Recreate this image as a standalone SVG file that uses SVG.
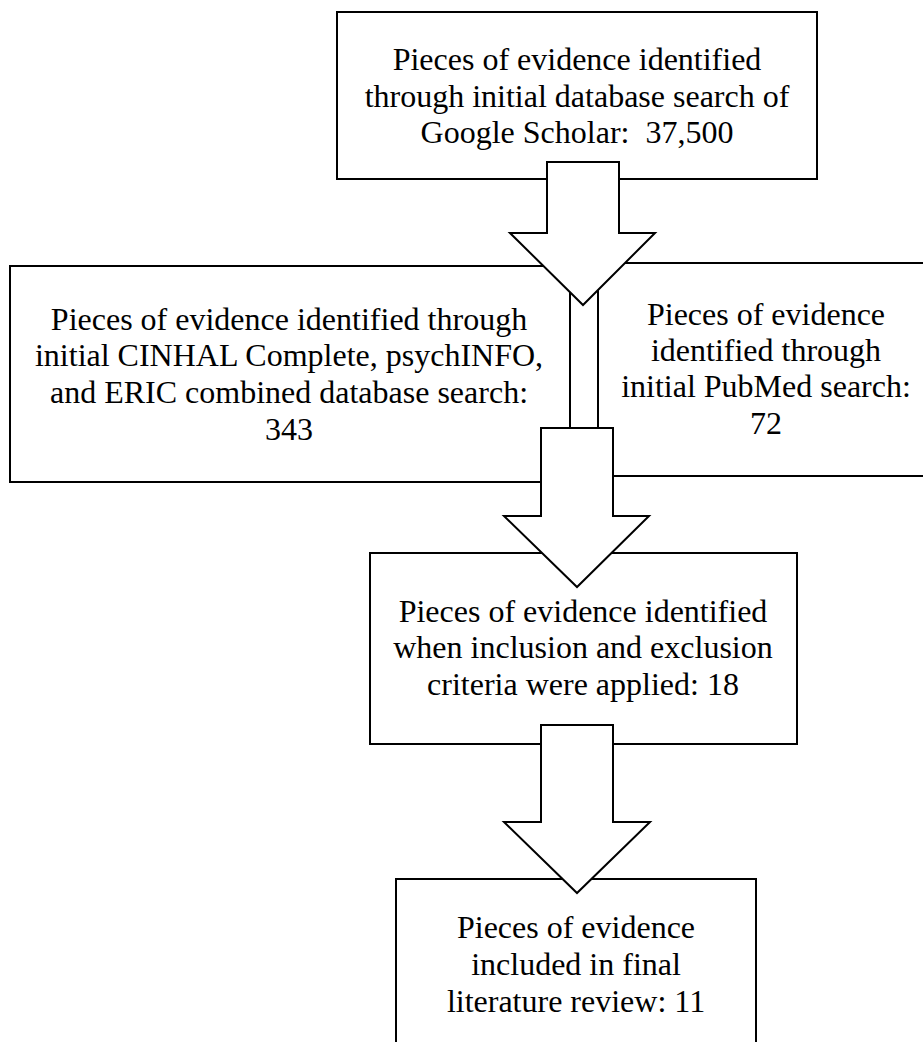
<svg xmlns="http://www.w3.org/2000/svg" width="923" height="1042" viewBox="0 0 923 1042">
<style>
.box{fill:#fff;stroke:#000;stroke-width:2}
.arr{fill:#fff;stroke:#000;stroke-width:2;stroke-linejoin:miter}
text{font-family:"Liberation Serif","Times New Roman",serif;font-size:32px;fill:#000;text-anchor:middle}
</style>
<rect width="923" height="1042" fill="#fff"/>
<g id="node-google">
<rect class="box" x="337" y="12" width="480" height="167"/>
<text x="577" y="70">Pieces of evidence identified</text>
<text x="577" y="107">through initial database search of</text>
<text x="577" y="143" xml:space="preserve">Google Scholar:  37,500</text>
</g>
<g id="node-cinhal">
<rect class="box" x="10" y="266" width="560" height="216"/>
<text x="289" y="330">Pieces of evidence identified through</text>
<text x="289" y="366">initial CINHAL Complete, psychINFO,</text>
<text x="289" y="403">and ERIC combined database search:</text>
<text x="289" y="440">343</text>
</g>
<g id="node-pubmed">
<rect class="box" x="598" y="263" width="336" height="213"/>
<text x="766" y="325">Pieces of evidence</text>
<text x="766" y="361">identified through</text>
<text x="766" y="397">initial PubMed search:</text>
<text x="766" y="434">72</text>
</g>
<g id="node-criteria">
<rect class="box" x="370" y="553" width="427" height="191"/>
<text x="583" y="622">Pieces of evidence identified</text>
<text x="583" y="658">when inclusion and exclusion</text>
<text x="583" y="695">criteria were applied: 18</text>
</g>
<g id="node-final">
<rect class="box" x="396" y="879" width="360" height="180"/>
<text x="576" y="938">Pieces of evidence</text>
<text x="576" y="975">included in final</text>
<text x="576" y="1012">literature review: 11</text>
</g>
<g id="connectors">
<polygon class="arr" points="547,162 619,162 619,233 655,233 583,305 510,233 547,233"/>
<polygon class="arr" points="541,428 613,428 613,516 649,516 577,587 504,516 541,516"/>
<polygon class="arr" points="541,725 613,725 613,822 650,822 577,893 504,822 541,822"/>
</g>
</svg>
